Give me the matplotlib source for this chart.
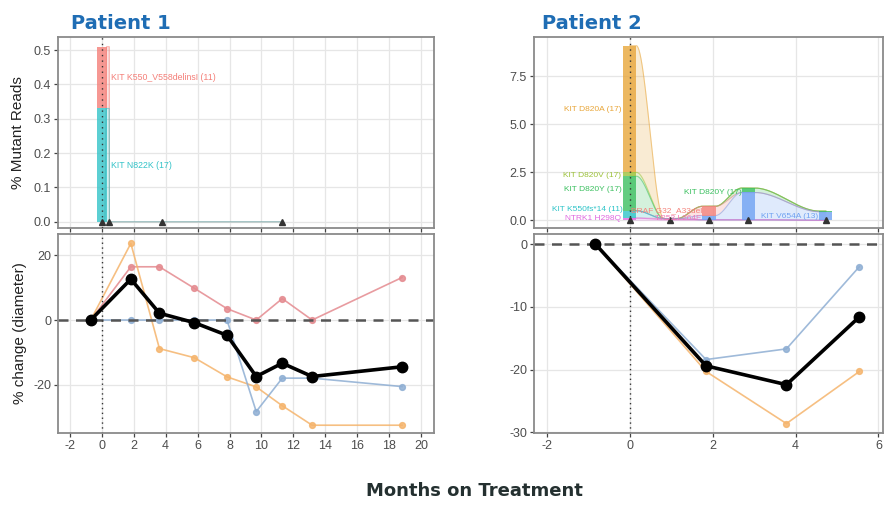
import numpy as np
import matplotlib
matplotlib.use("Agg")
import matplotlib.pyplot as plt

# ---------------- data ----------------
# Patient 1: ctDNA (% mutant reads) at blood draws
p1_draw_months = [0.0, 0.48, 3.74, 11.3]
p1_variant_names = ["KIT N822K (17)", "KIT K550_V558delinsI (11)"]
p1_kit_n822k = [0.33, 0.0, 0.0, 0.0]
p1_kit_k550 = [0.18, 0.0, 0.0, 0.0]

# Patient 1: tumour size change (% diameter)
p1_scan_months = [-0.69, 1.82, 3.61, 5.79, 7.84, 9.67, 11.3, 13.17, 18.8]
p1_sum_change = [0, 12.6, 2.1, -0.8, -4.7, -17.4, -13.3, -17.4, -14.4]
p1_lesion_a = [0, 16.4, 16.4, 9.8, 3.5, 0, 6.6, 0, 13.1]
p1_lesion_b = [0, 23.6, -8.8, -11.6, -17.5, -20.6, -26.4, -32.4, -32.4]
p1_lesion_c = [0, 0, 0, 0, 0, -28.2, -17.9, -17.9, -20.5]

# Patient 2: ctDNA (% mutant reads) at blood draws (stack order bottom -> top)
p2_draw_months = [0.0, 0.98, 1.91, 2.86, 4.73]
p2_variant_names = ["NTRK1 H298Q", "TP53 L264F", "KIT K550fs*14 (11)", "KIT V654A (13)",
                    "BRAF G32_A33del", "KIT D820Y (17)", "KIT D820V (17)", "KIT D820A (17)"]
p2_ntrk1 = [0.12, 0.03, 0.03, 0.03, 0.0]
p2_tp53 = [0.0, 0.06, 0.0, 0.0, 0.0]
p2_kit_k550fs = [0.38, 0.0, 0.0, 0.0, 0.0]
p2_kit_v654a = [0.0, 0.0, 0.22, 1.42, 0.45]
p2_braf = [0.0, 0.0, 0.48, 0.0, 0.0]
p2_kit_d820y = [1.80, 0.0, 0.0, 0.23, 0.03]
p2_kit_d820v = [0.20, 0.0, 0.0, 0.0, 0.0]
p2_kit_d820a = [6.60, 0.0, 0.0, 0.0, 0.0]

# Patient 2: tumour size change (% diameter)
p2_scan_months = [-0.83, 1.84, 3.78, 5.54]
p2_sum_change = [0, -19.4, -22.4, -11.6]
p2_lesion_c = [0, -18.4, -16.7, -3.6]
p2_lesion_b = [0, -20.3, -28.6, -20.3]

# ---------------- styling ----------------
p1_colors = ["#33C3C8", "#F47F78"]
p2_colors = ["#E068E0", "#F07AB8", "#2EC4C8", "#6FA2F2", "#F4837C",
             "#3CC060", "#9DC23A", "#E8A63A"]
col_a, col_b, col_c = "#E48A8F", "#F5B46C", "#8EAED3"
title_col = "#1F6DB4"
frame_col = "#8a8a8a"
tick_col = "#4d4d4d"
grid_col = "#e6e6e6"

plt.rcParams['font.family'] = ['Liberation Sans', 'DejaVu Sans']
plt.rcParams['axes.unicode_minus'] = False

W, H = 885, 505
fig = plt.figure(figsize=(W / 100, H / 100), dpi=100)


def ax_at(x0, y0, x1, y1):
    return fig.add_axes([x0 / W, 1 - y1 / H, (x1 - x0) / W, (y1 - y0) / H])


def style(ax, labels=True):
    for s in ax.spines.values():
        s.set_color(frame_col)
        s.set_linewidth(1.3)
    ax.set_facecolor("white")
    ax.grid(True, color=grid_col, linewidth=0.9)
    ax.set_axisbelow(True)
    ax.tick_params(direction="out", length=3, width=0.9, color="#444444",
                   labelsize=9, labelcolor=tick_col, pad=2)
    if not labels:
        ax.tick_params(labelbottom=False)


def smooth(times, vals, xs, half):
    t = np.asarray(times, float)
    v = np.asarray(vals, float)
    out = np.full_like(xs, v[0])
    for i in range(len(t) - 1):
        a, b = t[i] + half, t[i + 1] - half
        m = (xs >= t[i]) & (xs <= t[i + 1])
        s = np.clip((xs[m] - a) / (b - a), 0, 1)
        s = s * s * (3 - 2 * s)
        out[m] = v[i] + (v[i + 1] - v[i]) * s
    return out


def ctdna_panel(ax, times, series, colors, width):
    half = width / 2
    xs = np.linspace(times[0], times[-1], 800)
    base = np.zeros_like(xs)
    tops = []
    for vals, c in zip(series, colors):
        top = base + smooth(times, vals, xs, half)
        ax.fill_between(xs, base, top, color=c, alpha=0.22, linewidth=0)
        tops.append((top, c))
        base = top
    for top, c in reversed(tops):
        ax.plot(xs, top, color=c, alpha=0.55, lw=0.8)
    bottoms = np.zeros(len(times))
    for vals, c in zip(series, colors):
        v = np.asarray(vals, float)
        ax.bar(times, v, width=width, bottom=bottoms, color=c, alpha=0.8,
               linewidth=0, zorder=3)
        bottoms = bottoms + v
    ax.plot(times, np.zeros(len(times)), linestyle="none", marker="^",
            color="#333333", markersize=5, zorder=6)
    ax.axvline(0, color="#333333", linestyle=(0, (1, 3)), lw=1.0, zorder=5)


def tumour_panel(ax, months, lesions, colors, total):
    for vals, c in zip(lesions, colors):
        ax.plot(months, vals, color=c, lw=1.2, marker="o", markersize=4.2, alpha=0.85)
    ax.axhline(0, color="#555555", lw=1.8, linestyle=(0, (4, 3)), zorder=2)
    ax.axvline(0, color="#333333", lw=1.0, linestyle=(0, (1, 2.5)), zorder=2)
    ax.plot(months, total, color="black", lw=2.6, marker="o", markersize=7.5, zorder=5)


# ---------------- Patient 1 ----------------
ax1t = ax_at(58, 37, 434, 228)
style(ax1t, labels=False)
ctdna_panel(ax1t, p1_draw_months, [p1_kit_n822k, p1_kit_k550], p1_colors, 0.6)
ax1t.set_xlim(-2.74, 20.8)
ax1t.set_ylim(-0.018, 0.538)
ax1t.set_xticks(np.arange(-2, 21, 2))
ax1t.set_yticks(np.arange(0, 0.51, 0.1))
ax1t.set_yticklabels([f"{v:.1f}" for v in np.arange(0, 0.51, 0.1)])
ax1t.set_ylabel("% Mutant Reads", fontsize=11, color="#222222", labelpad=6)
p1_label_layout = [(0, 0.6, 0.165, "left"), (1, 0.6, 0.42, "left")]
for idx, x, y, ha in p1_label_layout:
    ax1t.text(x, y, p1_variant_names[idx], color=p1_colors[idx], fontsize=6.3,
              ha=ha, va="center", zorder=7)

ax1b = ax_at(58, 234, 434, 433)
style(ax1b)
tumour_panel(ax1b, p1_scan_months, [p1_lesion_a, p1_lesion_b, p1_lesion_c],
             [col_a, col_b, col_c], p1_sum_change)
ax1b.set_xlim(-2.74, 20.8)
ax1b.set_ylim(-34.8, 26.5)
ax1b.set_xticks(np.arange(-2, 21, 2))
ax1b.set_yticks([-20, 0, 20])
ax1b.set_ylabel("% change (diameter)", fontsize=11, color="#222222", labelpad=4)

fig.text(71 / W, 1 - 29 / H, "Patient 1", color=title_col, fontsize=14,
         fontweight="bold", family=["DejaVu Sans"], ha="left", va="baseline")

# ---------------- Patient 2 ----------------
ax2t = ax_at(534, 37, 883, 228)
style(ax2t, labels=False)
p2_series = [p2_ntrk1, p2_tp53, p2_kit_k550fs, p2_kit_v654a, p2_braf,
             p2_kit_d820y, p2_kit_d820v, p2_kit_d820a]
ctdna_panel(ax2t, p2_draw_months, p2_series, p2_colors, 0.32)
ax2t.set_xlim(-2.31, 6.11)
ax2t.set_ylim(-0.4, 9.55)
ax2t.set_xticks([-2, 0, 2, 4, 6])
ax2t.set_yticks([0, 2.5, 5.0, 7.5])
ax2t.set_yticklabels(["0.0", "2.5", "5.0", "7.5"])
p2_label_layout = [
    (7, -0.2, 5.75, "right"), (6, -0.2, 2.35, "right"), (5, -0.2, 1.6, "right"),
    (2, -0.17, 0.55, "right"), (0, -0.2, 0.09, "right"), (4, 0.02, 0.52, "left"),
    (1, 0.6, 0.09, "left"), (5, 2.7, 1.47, "right"), (3, 4.55, 0.2, "right"),
]
for idx, x, y, ha in p2_label_layout:
    ax2t.text(x, y, p2_variant_names[idx], color=p2_colors[idx], fontsize=6,
              ha=ha, va="center", zorder=7)

ax2b = ax_at(534, 234, 883, 433)
style(ax2b)
tumour_panel(ax2b, p2_scan_months, [p2_lesion_c, p2_lesion_b], [col_c, col_b],
             p2_sum_change)
ax2b.set_xlim(-2.31, 6.11)
ax2b.set_ylim(-30.1, 1.6)
ax2b.set_xticks([-2, 0, 2, 4, 6])
ax2b.set_yticks([-30, -20, -10, 0])

fig.text(542 / W, 1 - 29 / H, "Patient 2", color=title_col, fontsize=14,
         fontweight="bold", family=["DejaVu Sans"], ha="left", va="baseline")

fig.text(474 / W, 1 - 491 / H, "Months on Treatment", color="#243030", fontsize=13,
         fontweight="bold", family=["DejaVu Sans"], ha="center", va="center")

fig.savefig("out.png", dpi=100)
